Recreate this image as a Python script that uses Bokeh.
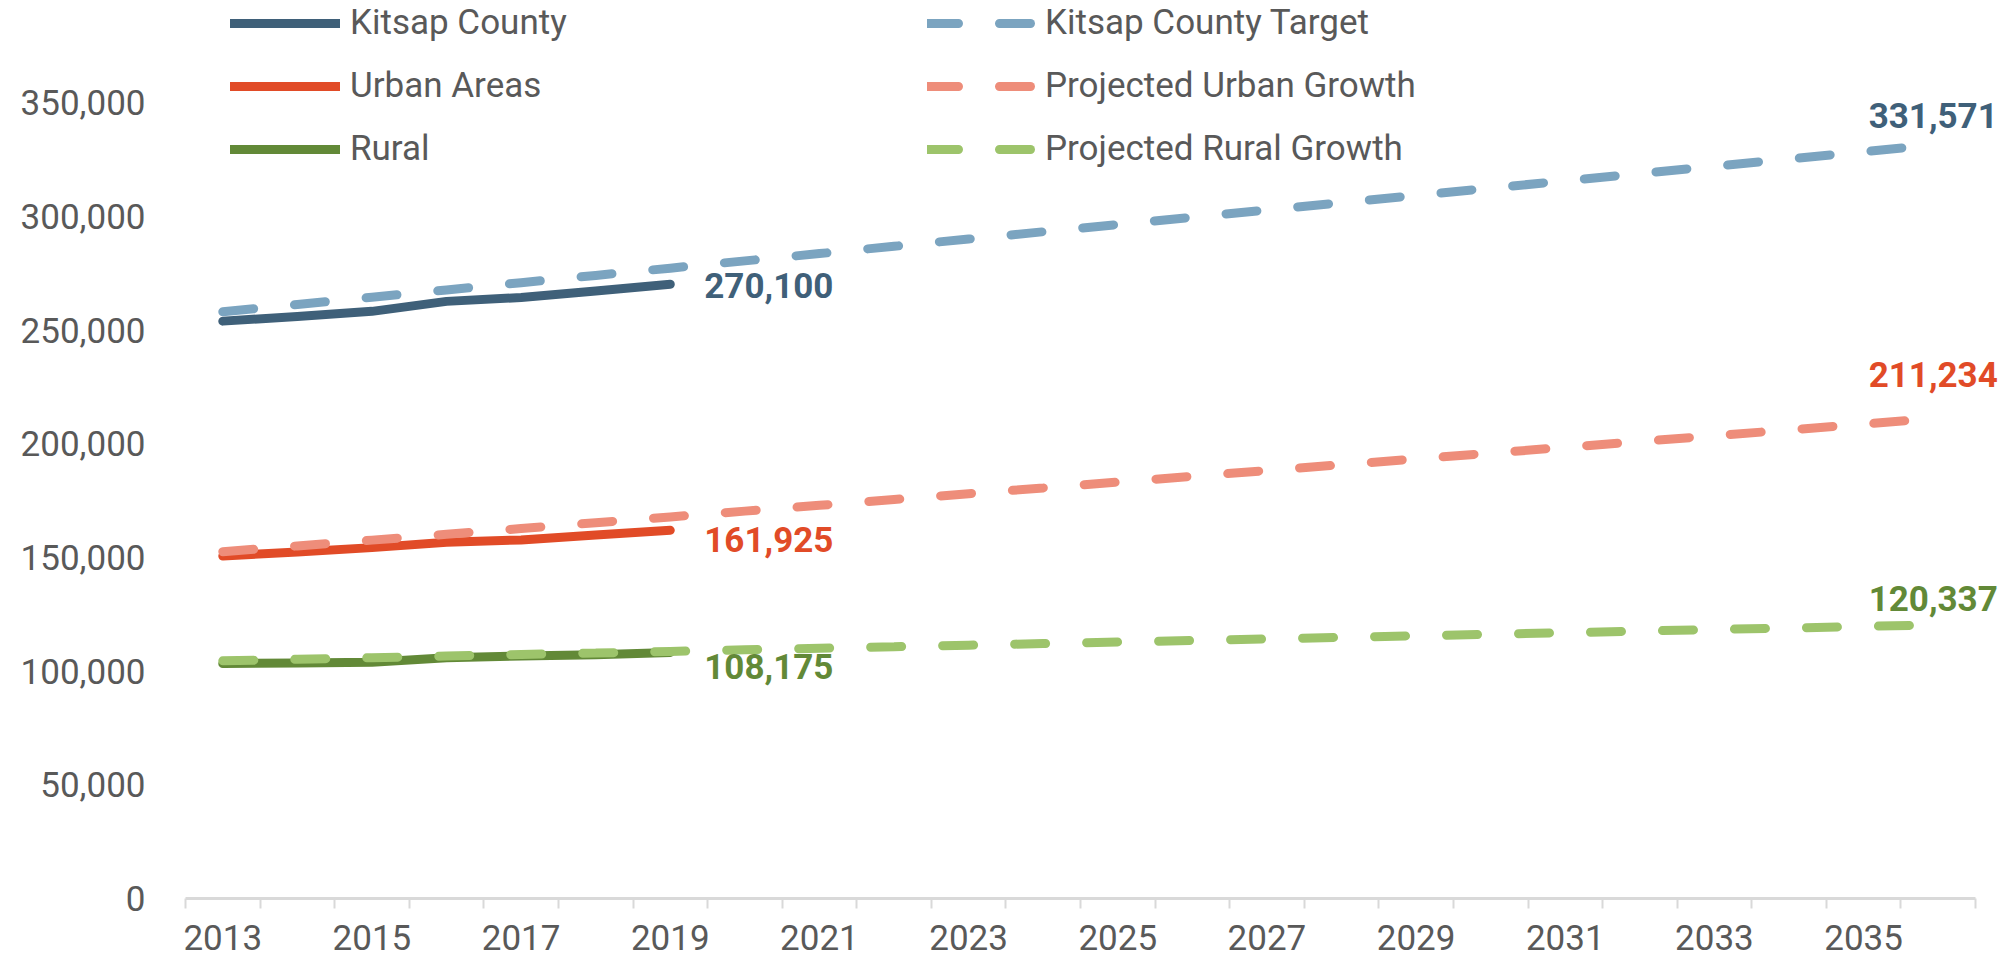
from bokeh.plotting import figure
from bokeh.models import Range1d, FixedTicker, NumeralTickFormatter, Legend, LegendItem, ColumnDataSource, LabelSet
from bokeh.core.properties import value
from bokeh.embed import file_html
from bokeh.resources import INLINE

# ---- data ----
hist_years = [2013, 2014, 2015, 2016, 2017, 2018, 2019]
kitsap = [253900, 255900, 258200, 262590, 264300, 267120, 270100]
urban = [150600, 152400, 154300, 156700, 157700, 159900, 161925]
rural = [103300, 103600, 103900, 105900, 106600, 107200, 108175]

proj_years = list(range(2013, 2037))
kitsap_target = [258000, 261200, 264400, 267600, 270800, 274000, 277200, 280400,
                 283600, 286800, 290000, 293200, 296400, 299600, 302800, 306000,
                 309200, 312400, 315600, 318800, 322000, 325200, 328400, 331571]
urban_proj = [152500, 155050, 157600, 160150, 162700, 165250, 167800, 170350,
              172900, 175450, 178000, 180550, 183100, 185650, 188200, 190750,
              193300, 195850, 198400, 200950, 203500, 206050, 208600, 211234]
rural_proj = [104500, 105200, 105900, 106600, 107300, 107950, 108650, 109350,
              110050, 110700, 111400, 112100, 112800, 113450, 114150, 114850,
              115550, 116200, 116900, 117600, 118300, 118950, 119650, 120337]

label_years = list(range(2013, 2036, 2))
ytick_vals = [0, 50000, 100000, 150000, 200000, 250000, 300000, 350000]

# ---- styles ----
C_KIT, C_KIT_T = "#3F6079", "#7BA4C0"
C_URB, C_URB_P = "#E14B27", "#EE8D7A"
C_RUR, C_RUR_P = "#628937", "#9DC46B"
TXT = "#595959"
FONT = "Roboto"
FS = "35px"
LW = 9
DASH = "31 41"

x_lo = proj_years[0] - 0.5
x_hi = proj_years[-1] + 0.5
px_per_year = 1790 / (x_hi - x_lo)
plot_w = 2013 - 185

p = figure(width=2013, height=957,
           x_range=Range1d(x_lo, x_lo + plot_w / px_per_year), y_range=Range1d(0, 394900),
           min_border_left=185, min_border_right=0, min_border_top=0, min_border_bottom=59,
           output_backend="svg", toolbar_location=None)
p.xgrid.visible = False
p.ygrid.visible = False
p.outline_line_color = None

# x axis
xa = p.xaxis[0]
xa.bounds = (x_lo, x_hi)
xa.ticker = FixedTicker(ticks=label_years, minor_ticks=[y - 0.5 for y in range(2013, 2038)])
xa.major_label_overrides = {y: str(y) for y in label_years}
xa.major_tick_line_color = None
xa.major_tick_out = 0
xa.major_tick_in = 0
xa.minor_tick_out = 10
xa.minor_tick_in = 0
xa.minor_tick_line_color = "#D9D9D9"
xa.minor_tick_line_width = 2
xa.axis_line_color = "#D9D9D9"
xa.axis_line_width = 3
xa.major_label_text_font = FONT
xa.major_label_text_font_size = FS
xa.major_label_text_color = TXT
xa.major_label_standoff = 16

# y axis
ya = p.yaxis[0]
ya.ticker = FixedTicker(ticks=ytick_vals)
ya.formatter = NumeralTickFormatter(format="0,0")
ya.axis_line_color = None
ya.major_tick_line_color = None
ya.minor_tick_line_color = None
ya.major_tick_out = 0
ya.major_tick_in = 0
ya.major_label_standoff = 40
ya.major_label_text_font = FONT
ya.major_label_text_font_size = FS
ya.major_label_text_color = TXT

# lines
r_kit = p.line(hist_years, kitsap, line_color=C_KIT, line_width=LW, line_cap="round", line_join="round")
r_urb = p.line(hist_years, urban, line_color=C_URB, line_width=LW, line_cap="round", line_join="round")
r_rur = p.line(hist_years, rural, line_color=C_RUR, line_width=LW, line_cap="round", line_join="round")
r_kit_t = p.line(proj_years, kitsap_target, line_color=C_KIT_T, line_width=LW, line_dash=DASH, line_cap="round")
r_urb_p = p.line(proj_years, urban_proj, line_color=C_URB_P, line_width=LW, line_dash=DASH, line_cap="round")
r_rur_p = p.line(proj_years, rural_proj, line_color=C_RUR_P, line_width=LW, line_dash=DASH, line_cap="round")

# data labels (end of history)
hist_src = ColumnDataSource(dict(
    x=[hist_years[-1]] * 3,
    y=[kitsap[-1], urban[-1], rural[-1]],
    t=["{:,}".format(v) for v in (kitsap[-1], urban[-1], rural[-1])],
    c=[C_KIT, C_URB, C_RUR],
    dy=[1, 9, 14],
))
p.text(x="x", y="y", text="t", text_color="c", source=hist_src, x_offset=34, y_offset="dy",
       text_align="left", text_baseline="middle", text_font=value(FONT),
       text_font_size=FS, text_font_style="bold")

# data labels (end of projection)
proj_src = ColumnDataSource(dict(
    x=[proj_years[-1]] * 3,
    y=[kitsap_target[-1], urban_proj[-1], rural_proj[-1]],
    t=["{:,}".format(v) for v in (kitsap_target[-1], urban_proj[-1], rural_proj[-1])],
    c=[C_KIT, C_URB, C_RUR],
    dy=[29, 44, 26],
))
p.add_layout(LabelSet(x="x", y="y", text="t", text_color="c", source=proj_src, x_offset=-5, y_offset="dy",
                      text_align="center", text_baseline="middle", text_font=value(FONT),
                      text_font_size=value(FS), text_font_style="bold"))

# legends
def make_legend(items, loc, standoff):
    return Legend(items=items, location=loc, orientation="vertical",
                  glyph_width=110, glyph_height=40, label_height=40, spacing=22,
                  label_standoff=standoff, padding=0, margin=0,
                  border_line_color=None, background_fill_alpha=0,
                  label_text_font=FONT, label_text_font_size=FS, label_text_color=TXT)

leg1 = make_legend([LegendItem(label="Kitsap County", renderers=[r_kit]),
                    LegendItem(label="Urban Areas", renderers=[r_urb]),
                    LegendItem(label="Rural", renderers=[r_rur])], (45, 729), 10)
leg2 = make_legend([LegendItem(label="Kitsap County Target", renderers=[r_kit_t]),
                    LegendItem(label="Projected Urban Growth", renderers=[r_urb_p]),
                    LegendItem(label="Projected Rural Growth", renderers=[r_rur_p])], (742, 729), 8)
p.add_layout(leg1)
p.add_layout(leg2)

open("out.html", "w").write(file_html(p, INLINE))
